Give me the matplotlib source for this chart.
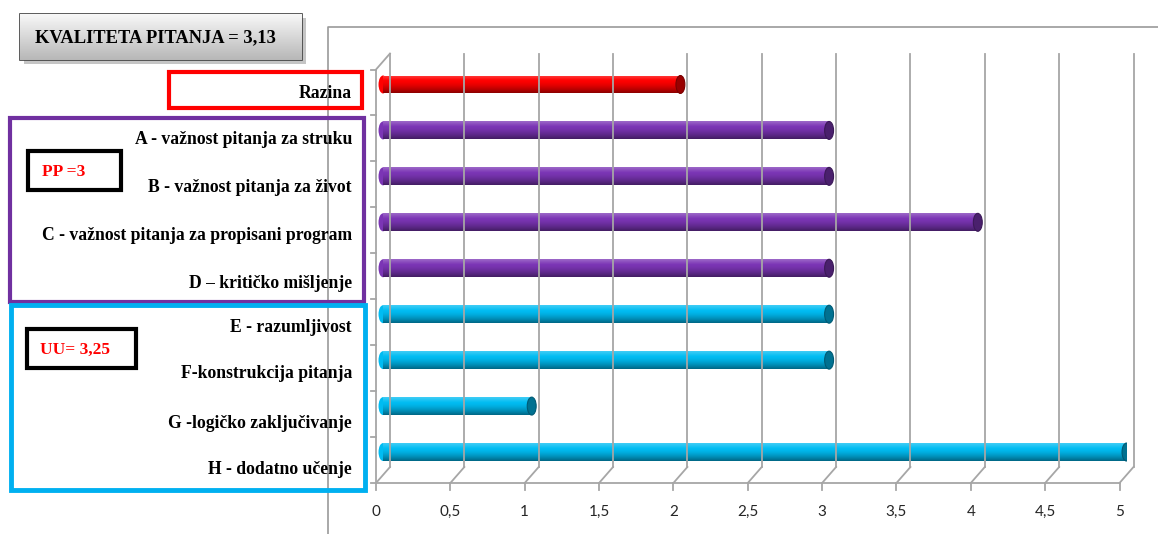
import numpy as np
import matplotlib
matplotlib.use("Agg")
import matplotlib.pyplot as plt
from matplotlib.patches import Rectangle, Ellipse
from matplotlib.lines import Line2D
from matplotlib import transforms
from matplotlib.colors import to_rgb

# podaci
kategorije = ['Razina',
              'A - važnost pitanja za struku',
              'B - važnost pitanja za život',
              'C - važnost pitanja za propisani program',
              'D – kritičko mišljenje',
              'E - razumljivost',
              'F-konstrukcija pitanja',
              'G -logičko zaključivanje',
              'H - dodatno učenje']
vrijednosti = [2, 3, 3, 4, 3, 3, 3, 1, 5]
grupe = ['raz', 'pp', 'pp', 'pp', 'pp', 'uu', 'uu', 'uu', 'uu']
x_oznake = ['0', '0,5', '1', '1,5', '2', '2,5', '3', '3,5', '4', '4,5', '5']
x_vrijednosti = [0, 0.5, 1, 1.5, 2, 2.5, 3, 3.5, 4, 4.5, 5]

boje = {'raz': '#FF0000', 'pp': '#7B35B5', 'uu': '#00BCF2'}
okviri = {'raz': '#FF0000', 'pp': '#7030A0', 'uu': '#00B0F0'}

W, H = 1158, 534
fig = plt.figure(figsize=(W / 100, H / 100), dpi=100)
fig.patch.set_facecolor('white')

# glavna os (srednja dubina 3D grafa)
ax = fig.add_axes([383 / W, (H - 475) / H, 743.5 / W, 413.5 / H])
ax.set_xlim(0, 5)
ax.set_ylim(len(kategorije) - 0.5, -0.5)
ax.axis('off')

visina = 0.39
trans_px = transforms.IdentityTransform()


def px(x, y):
    # data -> pikseli (gore = manji y kao na slici)
    X, Y = ax.transData.transform((x, y))
    return X, H - Y


def linija(xs, ys, **kw):
    fig.add_artist(Line2D(xs, [H - v for v in ys], transform=trans_px, **kw))


DX, DY = 7, 8
siva = '#A6A6A6'
_, y_top = px(0, -0.5)
_, y_bot = px(0, len(kategorije) - 0.5)

# rešetka na stražnjem zidu + pod
for xv in x_vrijednosti:
    X, _ = px(xv, 0)
    linija([X + DX, X + DX], [y_top - DY, y_bot - DY], color=siva, lw=1.3)
    linija([X + DX, X - DX], [y_bot - DY, y_bot + DY], color=siva, lw=1.3)
    linija([X - DX, X - DX], [y_bot + DY, y_bot + DY + 7], color=siva, lw=1.3)
X0, _ = px(0, 0)
X5, _ = px(5, 0)
linija([X0 - DX, X5 - DX], [y_bot + DY, y_bot + DY], color=siva, lw=1.3)
linija([X0 - DX, X0 - DX], [y_top + DY, y_bot + DY], color=siva, lw=1.3)
linija([X0 - DX, X0 + DX], [y_top + DY, y_top - DY], color=siva, lw=1.3)
for i in range(len(kategorije) + 1):
    _, Y = px(0, i - 0.5)
    linija([X0 - DX - 5, X0 - DX], [Y + DY, Y + DY], color=siva, lw=1.3)

# okvir grafikona
linija([328, 328, W], [H, 27, 27], color='#9A9A9A', lw=1.2)


def gradijent(boja):
    b = np.array(to_rgb(boja))
    t = np.linspace(0, 1, 40)
    redovi = []
    for v in t:
        if v < 0.3:
            c = b + (1 - b) * 0.25 * (1 - v / 0.3)
        else:
            k = (v - 0.3) / 0.7
            c = b * (1 - 0.45 * k ** 1.5)
        redovi.append(np.clip(c, 0, 1))
    return np.array(redovi)[:, None, :]


# stupci
stupci = ax.barh(range(len(kategorije)), vrijednosti, height=visina,
                 color=[boje[g] for g in grupe], zorder=3)
for i, (st, g) in enumerate(zip(stupci, grupe)):
    st.set_facecolor('none')
    st.set_edgecolor('none')
    img = ax.imshow(gradijent(boje[g]), aspect='auto', zorder=3,
                    extent=(0, vrijednosti[i], i + visina / 2, i - visina / 2),
                    origin='upper', interpolation='bilinear')
    img.set_clip_path(st)
    tamna = np.array(to_rgb(boje[g])) * 0.6
    ax.add_patch(Ellipse((vrijednosti[i], i), 0.06, visina, facecolor=tamna,
                         edgecolor=tamna * 0.8, lw=0.8, zorder=4))
    ax.add_patch(Ellipse((0, i), 0.06, visina, facecolor=boje[g],
                         edgecolor='none', zorder=2.5, clip_on=False))
ax.set_xlim(0, 5)
ax.set_ylim(len(kategorije) - 0.5, -0.5)

# oznake kategorija
lab_y = [93, 140, 187, 235, 283, 327, 374, 423, 470]
for i, k in enumerate(kategorije):
    fig.text(352 / W, 1 - lab_y[i] / H, k, ha='right', va='center',
             family='Liberation Serif', weight='bold', fontsize=12.7)

# oznake osi x
for xv, t in zip(x_vrijednosti, x_oznake):
    X, _ = px(xv, 0)
    fig.text((X - DX) / W, 1 - 512 / H, t, ha='center', va='center',
             family='Lato', fontsize=11, color='#262626')

# okviri sa strane
ov = fig.add_axes([0, 0, 1, 1], zorder=5)
ov.set_xlim(0, W)
ov.set_ylim(H, 0)
ov.axis('off')
ov.patch.set_alpha(0)

# naslovni okvir sa sjenom
ov.add_patch(Rectangle((24, 18), 282, 46, facecolor='#8C8C8C', edgecolor='none', alpha=0.5))
naslov = Rectangle((20, 14), 282, 46, facecolor='none', edgecolor='#404040', lw=1.2)
ov.add_patch(naslov)
siva_grad = np.linspace(0.97, 0.72, 40)
gimg = ov.imshow(np.repeat(siva_grad[:, None, None], 3, axis=2), aspect='auto',
                 extent=(20, 302, 60, 14), origin='upper', zorder=1)
gimg.set_clip_path(naslov)
ov.set_xlim(0, W)
ov.set_ylim(H, 0)
ov.text(35, 38, 'KVALITETA PITANJA = 3,13', ha='left', va='center',
        family='Liberation Serif', weight='bold', fontsize=13.3, zorder=3)

ov.add_patch(Rectangle((169, 72), 193, 36, facecolor='none',
                       edgecolor=okviri['raz'], lw=3))
ov.add_patch(Rectangle((10, 118), 354, 184, facecolor='none',
                       edgecolor=okviri['pp'], lw=3))
ov.add_patch(Rectangle((11, 305), 354, 185, facecolor='none',
                       edgecolor=okviri['uu'], lw=3.5))
ov.add_patch(Rectangle((28, 151), 93, 39, facecolor='none',
                       edgecolor='black', lw=3))
ov.add_patch(Rectangle((27, 329), 109, 39, facecolor='none',
                       edgecolor='black', lw=3))
ov.text(42, 172, 'PP =3', ha='left', va='center', color='#FF0000',
        family='Liberation Serif', weight='bold', fontsize=12.5)
ov.text(40, 350, 'UU= 3,25', ha='left', va='center', color='#FF0000',
        family='Liberation Serif', weight='bold', fontsize=12.5)

fig.savefig('out.png', dpi=100)
